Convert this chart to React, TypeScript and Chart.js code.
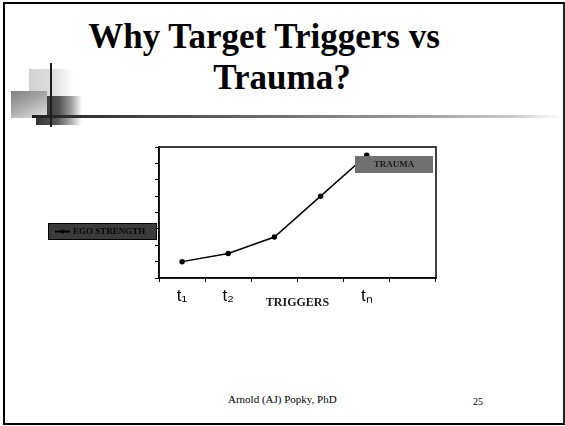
import React, { useEffect, useRef } from 'react';
import { Chart, registerables } from 'chart.js';

Chart.register(...registerables);

// ---- data ----
const triggerLabels = ['t₁', 't₂', '', '', 'tₙ', ''];
const egoStrength = [1, 1.5, 2.5, 5, 7.5];
const seriesLabel = 'EGO STRENGTH';
const annotationLabel = 'TRAUMA';
const axisTitle = 'TRIGGERS';
const yMin = 0;
const yMax = 8;
const yStep = 1;
const titleLines = ['Why Target Triggers vs', 'Trauma?'];
const footerText = 'Arnold (AJ) Popky, PhD';
const pageNumber = '25';

const SERIF = '"Liberation Serif", "Times New Roman", serif';

const slideBoxes = {
  id: 'slideBoxes',
  afterDraw(chart: any) {
    const ctx = chart.ctx;
    const { left, top, right } = chart.chartArea;
    ctx.save();
    // plot frame (top & right edges)
    ctx.strokeStyle = '#000';
    ctx.lineWidth = 1.5;
    ctx.strokeRect(left, top, right - left, chart.chartArea.bottom - top);

    // TRAUMA label box
    const tx = right - 81;
    const ty = top + 9;
    const tw = 78;
    const th = 17;
    ctx.fillStyle = '#707070';
    ctx.fillRect(tx, ty, tw, th);
    ctx.fillStyle = '#1c1c1c';
    ctx.font = 'bold 9px ' + SERIF;
    ctx.textAlign = 'center';
    ctx.textBaseline = 'middle';
    ctx.fillText(annotationLabel, tx + tw / 2, ty + th / 2 + 0.5);

    // EGO STRENGTH legend box
    const ex = left - 111;
    const ey = top + 76;
    const ew = 109;
    const eh = 17;
    ctx.fillStyle = '#3b3b3b';
    ctx.fillRect(ex, ey, ew, eh);
    ctx.strokeStyle = '#000';
    ctx.lineWidth = 1;
    ctx.strokeRect(ex + 0.5, ey + 0.5, ew - 1, eh - 1);
    ctx.beginPath();
    ctx.rect(ex, ey, ew, eh);
    ctx.clip();
    ctx.strokeStyle = '#000';
    ctx.lineWidth = 2;
    ctx.beginPath();
    ctx.moveTo(ex + 7, ey + eh / 2);
    ctx.lineTo(ex + 22, ey + eh / 2);
    ctx.stroke();
    ctx.fillStyle = '#000';
    ctx.beginPath();
    ctx.arc(ex + 14.5, ey + eh / 2, 2, 0, Math.PI * 2);
    ctx.fill();
    ctx.fillStyle = '#080808';
    ctx.font = 'bold 9px ' + SERIF;
    ctx.textAlign = 'left';
    ctx.textBaseline = 'middle';
    ctx.fillText(seriesLabel, ex + 25, ey + eh / 2 + 0.5);
    ctx.restore();
  },
};

function SlideChart() {
  const ref = useRef<HTMLCanvasElement>(null);
  useEffect(() => {
    if (!ref.current) return;
    const chart = new Chart(ref.current, {
      type: 'line',
      data: {
        labels: triggerLabels,
        datasets: [
          {
            label: seriesLabel,
            data: egoStrength,
            borderColor: '#000',
            backgroundColor: '#000',
            borderWidth: 1.5,
            pointRadius: 2,
            pointBackgroundColor: '#000',
            pointBorderColor: '#000',
            tension: 0,
          },
        ],
      },
      options: {
        responsive: false,
        maintainAspectRatio: false,
        animation: false,
        devicePixelRatio: 1,
        layout: { padding: { left: 149, right: 129, top: 147, bottom: 108 } },
        plugins: {
          legend: { display: false },
          tooltip: { enabled: false },
          title: { display: false },
        },
        scales: {
          x: {
            type: 'category',
            offset: true,
            grid: {
              offset: true,
              drawOnChartArea: false,
              drawTicks: true,
              tickLength: 4,
              color: '#000',
            },
            border: { display: true, color: '#000', width: 1.5 },
            ticks: {
              color: '#000',
              font: { family: '"Liberation Sans", Arial, sans-serif', size: 17 },
              padding: 4,
              maxRotation: 0,
              autoSkip: false,
            },
            title: {
              display: true,
              text: axisTitle,
              color: '#1a1a1a',
              font: { family: SERIF, size: 12, weight: 'bold' },
              padding: { top: 0, bottom: 8 },
            },
            afterFit: (s: any) => {
              s.height = 40;
            },
          },
          y: {
            min: yMin,
            max: yMax,
            ticks: { stepSize: yStep, display: false },
            grid: {
              drawOnChartArea: false,
              drawTicks: true,
              tickLength: 4,
              color: '#000',
            },
            border: { display: true, color: '#000', width: 1.5 },
            afterFit: (s: any) => {
              s.width = 10;
            },
          },
        },
      },
      plugins: [slideBoxes],
    } as any);
    return () => chart.destroy();
  }, []);
  return (
    <canvas
      ref={ref}
      width={565}
      height={426}
      style={{ position: 'absolute', left: 0, top: 0, width: 565, height: 426, zIndex: 2 }}
    />
  );
}

export default function App() {
  const abs = (s: React.CSSProperties): React.CSSProperties => ({ position: 'absolute', ...s });
  return (
    <div
      style={{
        position: 'fixed',
        left: 0,
        top: 0,
        width: 565,
        height: 426,
        background: '#fff',
        overflow: 'hidden',
      }}
    >
      {/* slide frame */}
      <div style={abs({ left: 3, top: 2, width: 558, height: 419, border: '2px solid #000', borderRight: '2px solid #222' })} />
      {/* decoration */}
      <div style={abs({ left: 29, top: 69, width: 44, height: 28, background: 'linear-gradient(to right, #d2d2d2 0%, #dedede 55%, rgba(255,255,255,0.2) 100%)' })} />
      <div style={abs({ left: 11, top: 91, width: 36, height: 27, background: 'linear-gradient(155deg, #808080 0%, #a8a8a8 45%, #e2e2e2 100%)' })} />
      <div style={abs({ left: 47, top: 96, width: 35, height: 22, background: 'linear-gradient(to right, #3a3a3a 0%, #555 35%, #a0a0a0 70%, #fff 100%)' })} />
      <div style={abs({ left: 36, top: 117, width: 46, height: 8, background: 'linear-gradient(to right, #333 0%, #555 45%, #aaa 75%, #fff 100%)' })} />
      <div style={abs({ left: 32, top: 115, width: 530, height: 2.5, background: 'linear-gradient(to right, #222 0%, #555 30%, #999 70%, #c8c8c8 90%, rgba(255,255,255,0) 100%)' })} />
      <div style={abs({ left: 50, top: 63, width: 2, height: 64, background: '#1e1e1e' })} />
      {/* title */}
      <div style={abs({ left: 14, top: 19, width: 500, textAlign: 'center', font: 'bold 35px/35px ' + SERIF, color: '#000', whiteSpace: 'nowrap' })}>
        {titleLines[0]}
      </div>
      <div style={abs({ left: 32, top: 60, width: 500, textAlign: 'center', font: 'bold 35px/35px ' + SERIF, color: '#000', whiteSpace: 'nowrap' })}>
        {titleLines[1]}
      </div>
      {/* footer */}
      <div style={abs({ left: 228, top: 393, font: '11px/12px ' + SERIF, color: '#000', whiteSpace: 'nowrap' })}>{footerText}</div>
      <div style={abs({ left: 473, top: 396, font: '10px/12px ' + SERIF, color: '#000' })}>{pageNumber}</div>
      <SlideChart />
    </div>
  );
}
